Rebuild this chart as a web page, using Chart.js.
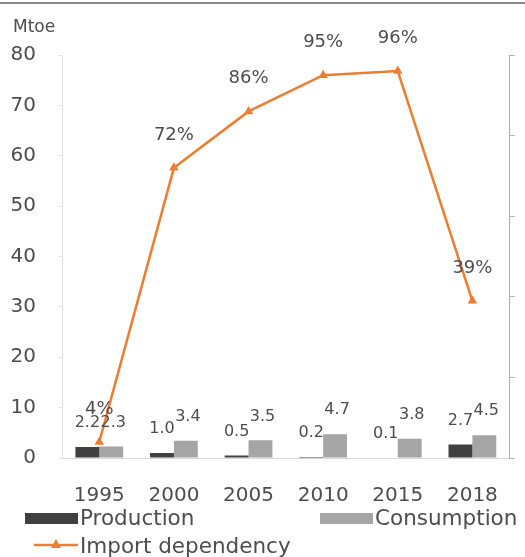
<!DOCTYPE html>
<html>
<head>
<meta charset="utf-8">
<script src="https://cdn.jsdelivr.net/npm/chart.js@4/dist/chart.umd.min.js"></script>
<style>
  html, body { margin: 0; padding: 0; background: #fff; }
  #wrap { width: 525px; height: 557px; position: relative; }
</style>
</head>
<body>
<div id="wrap"><canvas id="c" width="525" height="557"></canvas></div>
<script>
const categories = ['1995', '2000', '2005', '2010', '2015', '2018'];
const production = [2.2, 1.0, 0.5, 0.2, 0.1, 2.7];
const consumption = [2.3, 3.4, 3.5, 4.7, 3.8, 4.5];
const importDependency = [4, 72, 86, 95, 96, 39];
const leftTicks = [0, 10, 20, 30, 40, 50, 60, 70, 80];
const unitLabel = 'Mtoe';
const seriesNames = ['Production', 'Consumption', 'Import dependency'];

const FONT = '"DejaVu Sans", sans-serif';
const COL_PROD = '#404040';
const COL_CONS = '#a5a5a5';
const COL_LINE = '#ED7D31';
const COL_TEXT = '#4d4d4d';

const decorPlugin = {
  id: 'decor',
  afterDatasetsDraw(chart) {
    const ctx = chart.ctx;
    ctx.save();
    ctx.textAlign = 'center';
    ctx.textBaseline = 'middle';
    // bar labels
    ctx.font = '16px ' + FONT;
    ctx.fillStyle = COL_TEXT;
    [0, 1].forEach(di => {
      const meta = chart.getDatasetMeta(di);
      const data = chart.data.datasets[di].data;
      meta.data.forEach((el, i) => {
        ctx.fillText(data[i].toFixed(1), el.x + (di === 1 ? 2 : 0), el.y - 24);
      });
    });
    // line labels
    ctx.font = '18px ' + FONT;
    const lm = chart.getDatasetMeta(2);
    const ld = chart.data.datasets[2].data;
    lm.data.forEach((el, i) => {
      ctx.fillText(ld[i] + '%', el.x, el.y - 33);
    });
    ctx.restore();
  },
  afterDraw(chart) {
    const ctx = chart.ctx;
    ctx.save();
    // top border line
    ctx.fillStyle = '#8c8c8c';
    ctx.fillRect(0, 2, 525, 2);
    // unit label
    ctx.font = '17px ' + FONT;
    ctx.fillStyle = COL_TEXT;
    ctx.textAlign = 'left';
    ctx.textBaseline = 'alphabetic';
    ctx.fillText(unitLabel, 13, 32);
    // legend
    ctx.font = '21.5px ' + FONT;
    ctx.fillStyle = COL_PROD;
    ctx.fillRect(25, 513, 53, 11);
    ctx.fillStyle = COL_TEXT;
    ctx.fillText(seriesNames[0], 80, 525);
    ctx.fillStyle = COL_CONS;
    ctx.fillRect(320, 513, 53, 11);
    ctx.fillStyle = COL_TEXT;
    ctx.fillText(seriesNames[1], 375, 525);
    // line legend
    ctx.strokeStyle = COL_LINE;
    ctx.lineWidth = 2.5;
    ctx.beginPath();
    ctx.moveTo(34, 545);
    ctx.lineTo(78, 545);
    ctx.stroke();
    ctx.fillStyle = COL_LINE;
    ctx.beginPath();
    ctx.moveTo(56, 539);
    ctx.lineTo(61, 548);
    ctx.lineTo(51, 548);
    ctx.closePath();
    ctx.fill();
    ctx.fillStyle = COL_TEXT;
    ctx.fillText(seriesNames[2], 80, 553);
    ctx.restore();
  }
};

new Chart(document.getElementById('c'), {
  type: 'bar',
  data: {
    labels: categories,
    datasets: [
      { label: seriesNames[0], data: production, backgroundColor: COL_PROD, order: 1,
        categoryPercentage: 0.64, barPercentage: 1.0, yAxisID: 'y' },
      { label: seriesNames[1], data: consumption, backgroundColor: COL_CONS, order: 1,
        categoryPercentage: 0.64, barPercentage: 1.0, yAxisID: 'y' },
      { type: 'line', label: seriesNames[2], data: importDependency, yAxisID: 'y2', order: 0,
        borderColor: COL_LINE, backgroundColor: COL_LINE, borderWidth: 2.5,
        pointStyle: 'triangle', pointRadius: 5.5, pointBorderWidth: 0, tension: 0 }
    ]
  },
  options: {
    responsive: false,
    animation: false,
    devicePixelRatio: 1,
    layout: { padding: { top: 55, left: 0, right: 0, bottom: 0 } },
    plugins: { legend: { display: false }, tooltip: { enabled: false } },
    scales: {
      x: {
        grid: { display: false, drawTicks: false },
        border: { display: true, color: '#d9d9d9', width: 1 },
        ticks: { padding: 26, color: COL_TEXT, font: { family: FONT, size: 20 }, maxRotation: 0 },
        afterFit(s) { s.height = 99; }
      },
      y: {
        position: 'left',
        min: 0, max: 80,
        afterBuildTicks(s) { s.ticks = leftTicks.map(v => ({ value: v })); },
        grid: { drawOnChartArea: false, tickLength: 4, color: '#e6e6e6' },
        border: { display: true, color: '#e0e0e0', width: 1 },
        ticks: { padding: 22, color: COL_TEXT, font: { family: FONT, size: 20 } },
        afterFit(s) { s.width = 62; }
      },
      y2: {
        position: 'right',
        min: 0, max: 100,
        ticks: { display: false, stepSize: 20 },
        grid: { drawOnChartArea: false, tickLength: 5, color: '#b0b0b0' },
        border: { display: true, color: '#b0b0b0', width: 1 },
        afterFit(s) { s.width = 14; }
      }
    }
  },
  plugins: [decorPlugin]
});
</script>
</body>
</html>
